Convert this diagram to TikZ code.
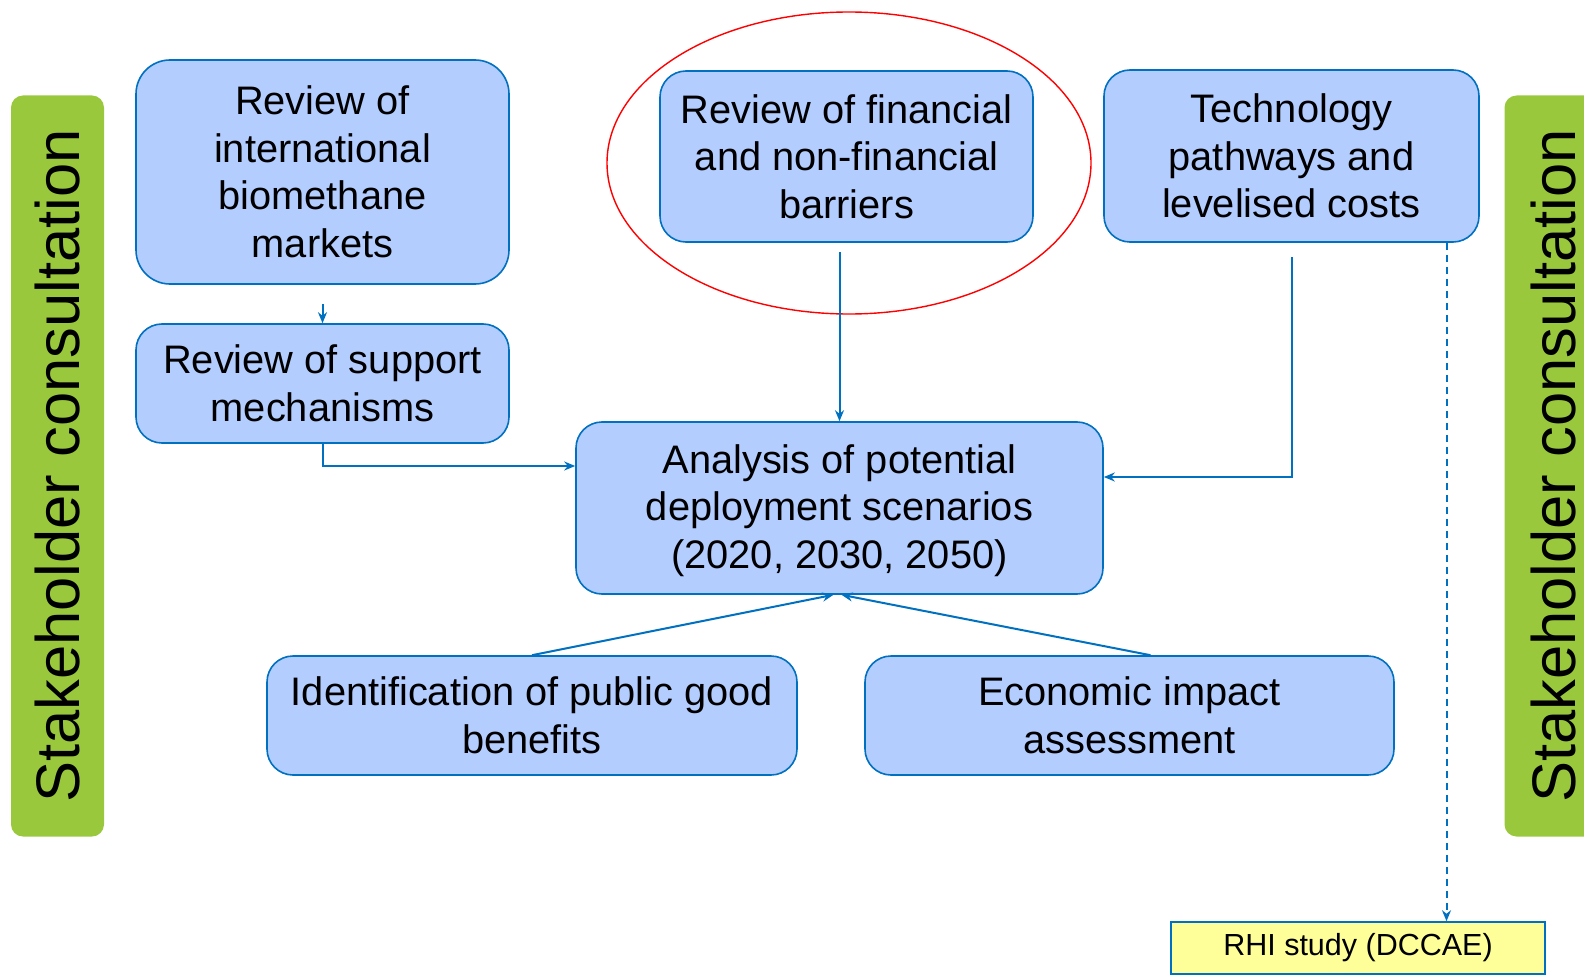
\documentclass[tikz,border=0pt]{standalone}
\usepackage{fontspec}
\setmainfont{Liberation Sans}
\usepackage{tikz}
\usetikzlibrary{arrows.meta,shapes}
\usepackage{xcolor}
\definecolor{boxfill}{RGB}{180,205,255}
\definecolor{boxline}{RGB}{0,112,192}
\definecolor{barfill}{RGB}{154,200,60}
\definecolor{notefill}{RGB}{255,255,153}

\begin{document}
\begin{tikzpicture}[x=1pt,y=-1pt,>={Stealth[length=11pt,width=9pt]},line width=1.8pt]
      \tikzstyle{task}=[rectangle,rounded corners=26pt,draw=boxline,fill=boxfill,line width=1.6pt,align=center,inner sep=0pt,font=\fontsize{39.8}{47.5}\selectfont]
      \tikzstyle{sidebar}=[rectangle,rounded corners=12pt,fill=barfill,minimum width=93pt,minimum height=741pt,inner sep=0pt]
      \tikzstyle{note}=[rectangle,draw=boxline,fill=notefill,line width=1.6pt,minimum width=374pt,minimum height=52pt,inner sep=0pt,font=\fontsize{30.5}{34}\selectfont]
      \tikzstyle{link}=[draw=boxline,line width=2pt]
      \useasboundingbox (0,0) rectangle (1584,976);
      \node[sidebar](left-bar) at (57.5,466){};
      \node[rotate=90,font=\fontsize{61.5}{64}\selectfont] (left-txt) at (left-bar){Stakeholder consultation};
      \node[sidebar](right-bar) at (1551,466){};
      \node[rotate=90,font=\fontsize{61.5}{64}\selectfont] (right-txt) at (1553,466){Stakeholder consultation};
      \node[task,minimum width=373pt,minimum height=224pt,rounded corners=34pt](markets) at (322.5,172){Review of\\international\\biomethane\\markets};
      \node[task,minimum width=373pt,minimum height=119pt](support) at (322.5,383.5){Review of support\\mechanisms};
      \node[task,minimum width=373pt,minimum height=171pt](barriers) at (846.5,156.5){Review of financial\\and non-financial\\barriers};
      \node[task,minimum width=375pt,minimum height=172pt](tech) at (1291.5,156){Technology\\pathways and\\levelised costs};
      \node[task,minimum width=527pt,minimum height=172pt](analysis) at (839.5,508){\strut Analysis of potential\\deployment scenarios\\(2020, 2030, 2050)};
      \node[task,minimum width=530pt,minimum height=119pt](public) at (532,715.5){Identification of public good\\benefits};
      \node[task,minimum width=529pt,minimum height=119pt](econ) at (1129.5,715.5){Economic impact\\assessment};
      \node[note](rhi) at (1358,948){RHI study (DCCAE)};
      \node[ellipse,draw=red,line width=1.4pt,minimum width=484pt,minimum height=302pt,inner sep=0pt](focus) at (849,163){};
      \draw[link,->]([yshift=-19pt]markets.south)--(support.north);
      \draw[link,->](support.south)|-([yshift=42pt]analysis.west);
      \draw[link,->]([yshift=-9pt]barriers.south -| analysis.north)--(analysis.north);
      \draw[link,->]([yshift=-14pt]tech.south)|-([yshift=31pt]analysis.east);
      \draw[link,->](public.north)--([xshift=-6pt]analysis.south);
      \draw[link,->]([xshift=21pt]econ.north)--([xshift=2pt]analysis.south);
      \draw[link,->,dash pattern=on 7pt off 5pt]([xshift=155pt]tech.south)--([xshift=155pt]tech.south |- rhi.north);
    \end{tikzpicture}
\end{document}
